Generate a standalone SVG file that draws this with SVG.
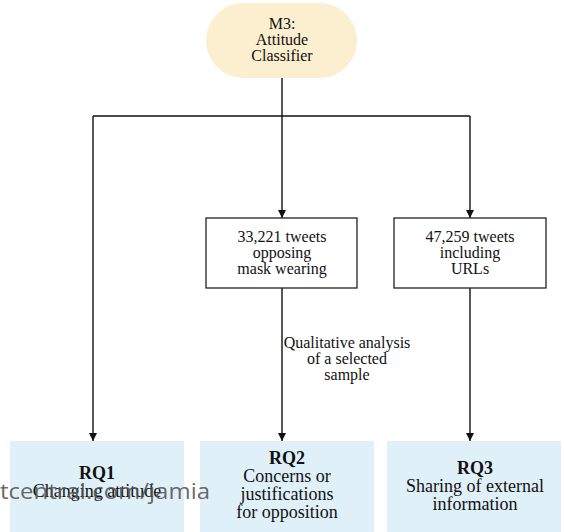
<svg xmlns="http://www.w3.org/2000/svg" width="564" height="532" viewBox="0 0 564 532">
<style>
text{font-family:'Liberation Serif','Times New Roman',Times,'DejaVu Serif',serif}
.t{font-size:16px;fill:#111;text-anchor:middle}
.r{font-size:18px;fill:#111;text-anchor:middle}
.b{font-weight:bold}
.box{fill:#fff;stroke:#222;stroke-width:1.3}
.rq{fill:#dff0f8}
.ln{fill:none;stroke:#111;stroke-width:1.4}
.wm{font-family:'Open Sans','Noto Sans',sans-serif;font-size:22px;fill:#555;fill-opacity:0.9}
</style>
<defs>
<marker id="ah" viewBox="0 0 10 10" refX="10" refY="5" markerWidth="8" markerHeight="9" markerUnits="userSpaceOnUse" orient="auto">
<path d="M0,0 L10,5 L0,10 z" fill="#111"/>
</marker>
</defs>
<rect width="564" height="532" fill="#fff"/>
<g id="connectors">
<path class="ln" d="M282,78 V116"/>
<path class="ln" d="M93,116 H470"/>
<path class="ln" d="M93,116 V441" marker-end="url(#ah)"/>
<path class="ln" d="M282,116 V218" marker-end="url(#ah)"/>
<path class="ln" d="M470,116 V218" marker-end="url(#ah)"/>
<path class="ln" d="M282,288 V441" marker-end="url(#ah)"/>
<path class="ln" d="M470,288 V441" marker-end="url(#ah)"/>
<g id="label-qual">
<text class="t" x="347" y="348">Qualitative analysis</text>
<text class="t" x="347" y="364">of a selected</text>
<text class="t" x="347" y="380">sample</text>
</g>
</g>
<g id="m3">
<rect x="206" y="3" width="151" height="75" rx="37.5" fill="#fcefcf"/>
<text class="t" x="282" y="29">M3:</text>
<text class="t" x="282" y="45">Attitude</text>
<text class="t" x="282" y="61">Classifier</text>
</g>
<g id="opposing">
<rect class="box" x="206" y="218" width="151" height="70"/>
<text class="t" x="282" y="242">33,221 tweets</text>
<text class="t" x="282" y="258">opposing</text>
<text class="t" x="282" y="274">mask wearing</text>
</g>
<g id="urls">
<rect class="box" x="394" y="218" width="152" height="70"/>
<text class="t" x="470" y="242">47,259 tweets</text>
<text class="t" x="470" y="258">including</text>
<text class="t" x="470" y="274">URLs</text>
</g>
<g id="rq1">
<rect class="rq" x="10" y="441" width="174" height="91"/>
<text class="r b" x="97" y="479">RQ1</text>
<text class="r" x="97" y="497">Changing attitude</text>
</g>
<g id="rq2">
<rect class="rq" x="200" y="441" width="174" height="91"/>
<text class="r b" x="287" y="464">RQ2</text>
<text class="r" x="287" y="482">Concerns or</text>
<text class="r" x="287" y="500">justifications</text>
<text class="r" x="287" y="518">for opposition</text>
</g>
<g id="rq3">
<rect class="rq" x="387" y="441" width="174" height="91"/>
<text class="r b" x="475" y="474">RQ3</text>
<text class="r" x="475" y="492">Sharing of external</text>
<text class="r" x="475" y="510">information</text>
</g>
<text class="wm" x="0" y="499" textLength="210" lengthAdjust="spacingAndGlyphs">tcentral.com/jamia</text>
</svg>
